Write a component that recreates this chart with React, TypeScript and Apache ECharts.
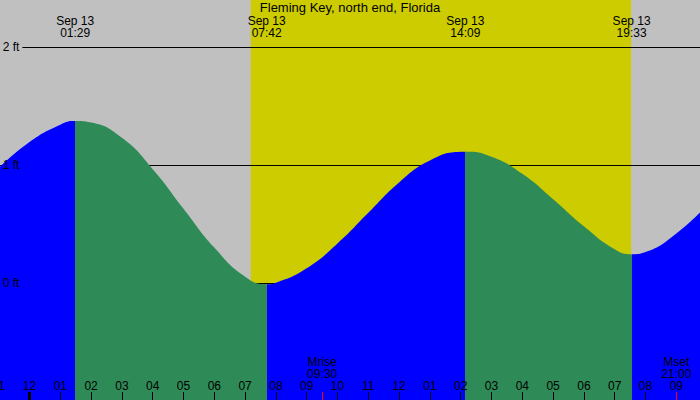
import * as echarts from 'echarts';
import React, { useEffect, useRef } from 'react';

const stationName = 'Fleming Key, north end, Florida';
const dateLabel = 'Sep 13';

// hours from midnight Sep 13, tide height in ft read at each hour tick
const hourMarks = [-1, 0, 1, 2, 3, 4, 5, 6, 7, 8, 9, 10, 11, 12, 13, 14, 15, 16, 17, 18, 19, 20, 21, 22];
const hourlyFeet = [
  0.975, 1.195, 1.342, 1.36, 1.23, 0.965, 0.63, 0.3, 0.054, 0.003, 0.125, 0.335,
  0.595, 0.852, 1.038, 1.112, 1.07, 0.925, 0.71, 0.48, 0.285, 0.262, 0.42, 0.66,
];

// high / low water
const tideEventTimes = ['01:29', '07:42', '14:09', '19:33'];
const tideEventFeet = [1.373, -0.01, 1.113, 0.243];

const sunTimes = ['07:11', '19:32'];
const moonNames = ['Mrise', 'Mset'];
const moonTimes = ['09:30', '21:00'];
const dayStartHours = [0];
const feetTicks = [0, 1, 2];

const NIGHT = '#c0c0c0';
const DAY = '#cccc00';
const RISE = '#0000ff';
const FALL = '#2e8b57';
const FONT = "'Liberation Sans', Arial, sans-serif";

const toHours = (t: string) => {
  const [h, m] = t.split(':').map(Number);
  return h + m / 60;
};

const hourLabel = (v: number) => {
  const h = ((Math.round(v) % 12) + 12) % 12 || 12;
  return String(h).padStart(2, '0');
};

const App: React.FC = () => {
  const chartRef = useRef<HTMLDivElement>(null);

  useEffect(() => {
    if (!chartRef.current) return;
    const chart = echarts.init(chartRef.current, undefined, { renderer: 'svg' });

    const eventHours = tideEventTimes.map(toHours);
    const moonHours = moonTimes.map(toHours);

    const tidePoints = [
      ...hourMarks.map((h, i) => [h, hourlyFeet[i]]),
      ...eventHours.map((h, i) => [h, tideEventFeet[i]]),
    ].sort((a, b) => a[0] - b[0]);

    // rising water blue, falling water green
    const isHigh = tideEventFeet.map(
      (v, i) => v > (tideEventFeet[i + 1] ?? tideEventFeet[i - 1])
    );
    const pieces: any[] = eventHours.map((h, i) => ({
      ...(i > 0 ? { gte: eventHours[i - 1] } : {}),
      lt: h,
      color: isHigh[i] ? RISE : FALL,
    }));
    pieces.push({
      gte: eventHours[eventHours.length - 1],
      color: isHigh[isHigh.length - 1] ? FALL : RISE,
    });

    const timeAxis = {
      type: 'value' as const,
      min: -1,
      max: 22,
      axisLine: { show: false, onZero: false },
      splitLine: { show: false },
    };
    const labelStyle = { color: '#000', fontSize: 12, lineHeight: 12, fontFamily: FONT };

    const option: any = {
      animation: false,
      backgroundColor: 'transparent',
      textStyle: { fontFamily: FONT },
      title: {
        text: stationName,
        left: 'center',
        top: 1,
        padding: 0,
        textStyle: { color: '#000', fontSize: 13, fontWeight: 'normal', fontFamily: FONT },
      },
      grid: {
        left: -1.3,
        right: -7.1,
        top: -71,
        bottom: -1,
        containLabel: false,
        outerBoundsMode: 'none',
      },
      visualMap: {
        type: 'piecewise',
        show: false,
        dimension: 0,
        seriesIndex: 0,
        pieces,
      },
      xAxis: [
        {
          ...timeAxis,
          position: 'bottom',
          interval: 1,
          z: 5,
          axisTick: { inside: true, length: 9, lineStyle: { color: '#000', width: 1 } },
          axisLabel: {
            ...labelStyle,
            inside: true,
            margin: 9,
            showMinLabel: true,
            showMaxLabel: false,
            formatter: hourLabel,
          },
        },
        {
          ...timeAxis,
          position: 'bottom',
          z: 5,
          axisTick: {
            inside: true,
            length: 9,
            customValues: dayStartHours,
            lineStyle: { color: '#000', width: 3 },
          },
          axisLabel: { show: false },
        },
        {
          ...timeAxis,
          position: 'bottom',
          z: 6,
          axisTick: {
            inside: true,
            length: 9,
            customValues: moonHours,
            lineStyle: { color: '#ff0000', width: 1 },
          },
          axisLabel: {
            ...labelStyle,
            inside: true,
            margin: 21,
            customValues: moonHours,
            formatter: (v: number) => {
              const i = moonHours.findIndex((h) => Math.abs(h - v) < 1e-3);
              return i < 0 ? '' : `${moonNames[i]}\n${moonTimes[i]}`;
            },
          },
        },
        {
          ...timeAxis,
          position: 'top',
          z: 5,
          axisTick: { show: false },
          axisLabel: {
            ...labelStyle,
            inside: true,
            margin: 86,
            customValues: eventHours,
            formatter: (v: number) => {
              const i = eventHours.findIndex((h) => Math.abs(h - v) < 1e-3);
              return i < 0 ? '' : `${dateLabel}\n${tideEventTimes[i]}`;
            },
          },
        },
      ],
      yAxis: [
        {
          type: 'value',
          min: -1,
          max: 3,
          interval: 1,
          z: 2,
          axisLine: { show: false, onZero: false },
          axisTick: { show: false },
          axisLabel: { show: false },
          splitLine: { show: true, lineStyle: { color: '#000', width: 1 } },
        },
        {
          type: 'value',
          min: -1,
          max: 3,
          interval: 1,
          position: 'left',
          z: 6,
          axisLine: { show: false, onZero: false },
          axisTick: { show: false },
          splitLine: { show: false },
          axisLabel: {
            inside: true,
            margin: 1,
            color: '#000',
            fontSize: 12,
            fontFamily: FONT,
            formatter: (v: number) => {
              if (!feetTicks.includes(v)) return '';
              const key = v === Math.max(...feetTicks) ? 'bg' : 'fg';
              return `{${key}|${v} ft}`;
            },
            rich: {
              bg: { backgroundColor: NIGHT, padding: [2, 3, 2, 3], color: '#000', fontSize: 12, fontFamily: FONT },
              fg: { padding: [2, 3, 2, 3], color: '#000', fontSize: 12, fontFamily: FONT },
            },
          },
        },
      ],
      series: [
        {
          name: 'tide',
          type: 'line',
          xAxisIndex: 0,
          yAxisIndex: 0,
          z: 3,
          data: tidePoints,
          smooth: 0.5,
          showSymbol: false,
          symbol: 'none',
          lineStyle: { width: 0, opacity: 0 },
          areaStyle: { opacity: 1, origin: 'start' },
          silent: true,
          markArea: {
            silent: true,
            z: 1,
            itemStyle: { color: DAY },
            data: [[{ xAxis: toHours(sunTimes[0]) }, { xAxis: toHours(sunTimes[1]) }]],
          },
        },
      ],
    };

    chart.setOption(option);
    return () => chart.dispose();
  }, []);

  return (
    <div
      ref={chartRef}
      style={{
        position: 'absolute',
        left: 0,
        top: 0,
        width: 700,
        height: 400,
        background: NIGHT,
      }}
    />
  );
};

export default App;
